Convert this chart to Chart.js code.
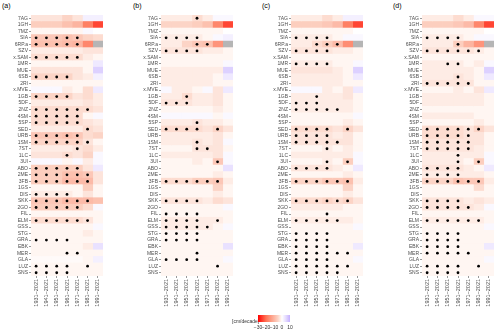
<!DOCTYPE html>
<html>
<head>
<meta charset="utf-8">
<script src="https://cdn.jsdelivr.net/npm/chart.js@4.4.0/dist/chart.umd.min.js"></script>
<style>
  body { margin: 0; background: #fff; font-family: "Liberation Sans", Arial, sans-serif; }
  #wrap { position: relative; width: 500px; height: 332px; }
  .panel { position: absolute; top: 0; width: 106px; height: 316px; }
  .tag { position: absolute; top: 2px; font-size: 7px; color: #000; }
  #legend { position: absolute; left: 232px; top: 312px; width: 90px; height: 20px; font-size: 5px; color: #333; }
</style>
</head>
<body>
<div id="wrap">
  <div class="tag" style="left:2px">(a)</div>
  <div class="tag" style="left:133px">(b)</div>
  <div class="tag" style="left:262px">(c)</div>
  <div class="tag" style="left:393px">(d)</div>
  <div class="panel" style="left:1px"><canvas id="pa"></canvas></div>
  <div class="panel" style="left:131px"><canvas id="pb"></canvas></div>
  <div class="panel" style="left:261px"><canvas id="pc"></canvas></div>
  <div class="panel" style="left:392px"><canvas id="pd"></canvas></div>
  <div id="legend">
    <span style="position:absolute;left:0;top:6px">[cm/decade]</span>
    <div id="bar" style="position:absolute;left:26px;top:3px;width:32px;height:7px"></div>
    <span id="legTicks"></span>
  </div>
</div>
<script>
const stations = ["7AG","1GH","7MZ","SIA","6RP.a","SZV","x.SAM","1MR","MUE","6SB","2RI","x.MVE","1GB","5DF","2NZ","4SM","5SP","SED","URB","1SM","7ST","1LC","3UI","ABO","2ME","3FB","1GS","DIS","SKK","2GO","FIL","ELM","GSS","STG","GRA","EBK","MER","GLA","LUZ","SNS"];
const periods = ["1931−2021","1941−2021","1951−2021","1961−2021","1971−2021","1981−2021","1991−2021"];
const legendTicks = [-30, -20, -10, 0, 10];

// trend values per station (rows) and period (columns), cm/decade; null = no data
const valuesA = [
  [-3,-3,-3,-5,-3,2,2],[-6,-6,-6,-8,-10,-18,-24],[-1,-1,-1,-1,-1,1,0],[-7,-7,-7,-8,-7,-5,-4],
  [-8,-8,-8,-9,-10,-17,null],[-2,-2,-2,-2,-2,-3,-3],[-4,-4,-4,-4,-4,-2,-1],[-1,-1,-1,-1,-1,-1,3],
  [-3,-3,-3,-3,-3,-1,6],[-5,-5,-5,-5,-3,-2,2],[-1,-1,-1,-1,-1,-1,-1],[1,1,1,-2,-1,-4,3],
  [-5,-5,-5,-5,-3,-4,-2],[-2,-2,-2,-2,-2,-3,-2],[-4,-4,-4,-4,-4,-4,-3],[-4,-4,-4,-4,-4,-1,1],
  [-4,-4,-4,-4,-4,-3,-2],[-2,-2,-2,-2,-2,-4,-3],[-7,-7,-7,-8,-7,-4,-5],[-5,-5,-5,-5,-5,-3,-1],
  [-2,-2,-2,-2,-3,-4,-2],[-3,-3,-3,-4,-3,-5,1],[1,1,1,-1,1,-2,1],[-6,-6,-6,-6,-6,-3,3],
  [-6,-6,-6,-8,-8,-7,-3],[-6,-6,-6,-9,-9,-9,-3],[-1,-1,-1,-1,-1,-6,-1],[-2,-2,-2,-2,-1,-3,-1],
  [-7,-7,-7,-9,-9,-9,-8],[-6,-6,-6,-6,-6,-4,1],[-1,-1,-1,-1,-1,-1,-1],[-4,-4,-4,-4,-4,-3,-1],
  [-1,-1,-1,-1,-1,-1,1],[-1,-1,-1,-1,-1,-2,-1],[-1,-1,-1,-1,-1,-1,-1],[-1,-1,-1,-1,-1,-2,4],
  [-1,-1,-1,-1,-1,-1,-1],[-0.5,-0.5,-0.5,-0.5,-0.5,-1,2],[-1,-1,-1,-1,-1,-1,-1],[-1,-1,-1,-1,-1,-1,-1]
];
const valuesB = [
  [-2,-2,-2,-4,-2,1,1],[-5,-5,-5,-6,-8,-17,-24],[-1,-1,-1,-1,-1,-1,0],[-2,-2,-2,-2,-1,1,2],
  [-2,-2,-5,-7,-8,-15,null],[-3,-3,-3,-3,-2,-2,-1],[-1,-1,-1,-1,-1,-1,-1],[-1,-1,-1,-1,-1,-1,1],
  [-2,-2,-2,-2,-2,-2,6],[-2,-2,-2,-2,-2,-1,3],[-2,-2,-2,-2,-2,-1,-1],[1,-2,-2,-1,1,-3,3],
  [-2,-2,-4,-2,-2,-3,-1],[-3,-3,-3,-2,-2,-3,-1],[-1,-1,-1,-1,-1,-2,-1],[1,1,1,1,1,-1,1],
  [-2,-2,-2,-3,-2,-2,-1],[-4,-4,-4,-4,-3,-5,-3],[-2,-2,-2,-2,-2,-3,-1],[-2,-2,-2,-3,-2,-3,1],
  [-1,-1,-1,-3,-3,-3,-1],[-2,-2,-2,-2,-2,-3,1],[-1,-1,-1,-2,-1,-7,1],[-1,-1,-1,-1,-1,-1,4],
  [-1,-1,-1,-1,-1,-2,-1],[-4,-4,-4,-6,-6,-7,-2],[-1,-1,-1,-1,-1,-5,-1],[-1,-1,-1,-1,-1,-2,-1],
  [-3,-3,-3,-3,-2,-4,-3],[-1,-1,-1,-1,-1,-1,1],[-1,-1,-1,-1,-1,-1,-1],[-2,-2,-2,-2,-2,-2,-1],
  [-2,-2,-2,-2,-2,-1,1],[-1,-1,-1,-1,-1,-1,-1],[-1,-1,-1,-1,-1,-1,-1],[-1,-1,-1,-1,-1,-1,4],
  [-1,-1,-1,-1,-1,-1,-1],[-1,-1,-1,-1,-1,-1,1],[-1,-1,-1,-1,-1,-1,-1],[-1,-1,-1,-1,-1,-1,-1]
];
const valuesC = [
  [-2,-2,-2,-4,-2,2,2],[-6,-6,-6,-7,-9,-18,-24],[-1,-1,-1,-1,-1,-1,0],[-2,-2,-2,-2,-1,1,1],
  [-2,-2,-4,-6,-9,-16,null],[-3,-3,-3,-3,-2,-2,-1],[-1,-1,-1,-1,-1,-1,-1],[-2,-2,-2,-2,-1,-1,1],
  [-3,-3,-3,-3,-2,-1,6],[-2,-2,-2,-2,-2,-1,3],[-2,-2,-2,-2,-2,-1,-1],[1,1,1,-2,-1,-3,3],
  [-2,-2,-2,-2,-2,-3,-1],[-2,-2,-2,-2,-2,-2,-1],[-2,-2,-2,-2,-2,-2,-1],[-1,-1,-1,-1,-1,-1,1],
  [-1,-1,-1,-1,-1,-2,-1],[-4,-4,-4,-4,-3,-5,-3],[-3,-3,-3,-3,-2,-3,-1],[-3,-3,-3,-3,-3,-3,-1],
  [-1,-1,-1,-2,-1,-2,-1],[-2,-2,-2,-2,-2,-2,1],[-1,-1,-1,-2,-1,-6,1],[-3,-3,-3,-3,-2,-1,3],
  [-1,-1,-1,-1,-1,-2,-1],[-5,-5,-5,-7,-7,-8,-2],[-1,-1,-1,-1,-1,-5,-1],[-1,-1,-1,-1,-1,-2,-1],
  [-4,-4,-4,-5,-4,-5,-3],[-2,-2,-2,-2,-2,-1,-1],[-1,-1,-1,-1,-1,-1,-1],[-2,-2,-2,-2,-2,-2,-1],
  [-1,-1,-1,-1,-1,-1,1],[-1,-1,-1,-1,-1,-1,-1],[-1,-1,-1,-1,-1,-1,-1],[-1,-1,-1,-1,-1,-1,3],
  [-1,-1,-1,-1,-1,-1,-1],[-1,-1,-1,-1,-1,-1,1],[-1,-1,-1,-1,-1,-1,-1],[-1,-1,-1,-1,-1,-1,-1]
];
const valuesD = [
  [-2,-2,-2,-4,-2,1,1],[-6,-6,-6,-7,-9,-17,-24],[-1,-1,-1,-1,-1,-1,0],[-2,-2,-2,-2,-1,1,1],
  [-2,-2,-2,-6,-10,-15,null],[-3,-3,-3,-3,-3,-2,-1],[-1,-1,-1,-1,-1,-1,-1],[-2,-2,-2,-2,-1,-2,1],
  [-2,-2,-2,-2,-2,-1,6],[-2,-2,-2,-3,-2,-1,3],[-3,-3,-3,-3,-3,-1,-1],[-1,-1,-1,-2,-1,-3,3],
  [-2,-2,-2,-2,-2,-2,-1],[-2,-2,-2,-2,-2,-2,-1],[-1,-1,-1,-1,-1,-1,-1],[-2,-2,-2,-2,-2,-1,-1],
  [-1,-1,-1,-1,-1,-2,-1],[-4,-4,-4,-4,-3,-5,-3],[-4,-4,-4,-4,-3,-3,-1],[-3,-3,-3,-3,-3,-3,-1],
  [-3,-3,-3,-3,-3,-2,-1],[-2,-2,-2,-2,-2,-2,1],[-2,-2,-2,-2,-1,-6,1],[-3,-3,-3,-3,-2,-1,3],
  [-2,-2,-2,-2,-2,-2,-1],[-5,-5,-5,-8,-7,-7,-2],[-1,-1,-1,-1,-1,-4,-1],[-1,-1,-1,-1,-1,-1,-1],
  [-3,-3,-3,-3,-2,-3,-2],[-3,-3,-3,-3,-3,-2,1],[-1,-1,-1,-1,-1,-1,-1],[-2,-2,-2,-2,-2,-2,-1],
  [-1,-1,-1,-1,-1,-1,1],[-1,-1,-1,-1,-1,-1,-1],[-1,-1,-1,-1,-1,-1,-1],[-1,-1,-1,-1,-1,-1,3],
  [-1,-1,-1,-1,-1,-1,-1],[-1,-1,-1,-1,-1,-1,1],[-1,-1,-1,-1,-1,-1,-1],[-1,-1,-1,-1,-1,-1,-1]
];

// significance marks: one string per station, "1" where the trend is significant
const dotsA = ["0000000","0000000","0000000","1111100","1111100","0000000","1111100","0000000","0000000","1111000",
  "0000000","0000000","1111000","0000000","1111110","1111100","1111100","0000010","1111100","1111110",
  "0000100","0001000","0000000","1111100","1111110","1111110","0000000","1111000","1111110","1111100",
  "0000000","1111110","0000000","0000000","1111000","0000000","0001100","0000000","1111010","1111000"];
const dotsB = ["0001000","0000000","0000000","1111000","0001100","1111000","0000000","0000000","0000000","0000000",
  "0000000","0000000","0010000","1110000","0000000","0000000","0001000","1111010","0000000","0001000",
  "0001100","0000000","0000010","0000000","0000000","1111110","0000000","0000000","1111000","0000000",
  "1111000","1111010","1111100","1111000","1111000","0000000","0001000","1111000","0000010","0000000"];
const dotsC = ["0000000","0000000","0000000","1111000","0011100","1111000","0000000","1111000","0000000","0000000",
  "0000000","0000000","0010000","1110000","1111100","0000000","0000000","1111010","1111000","1111100",
  "0001000","0000000","0001010","1111000","0000000","1111110","0000000","0000000","1111110","0000000",
  "0001000","1111100","0000000","1111000","1111000","1111000","1111110","1111000","1111110","1111100"];
const dotsD = ["0000000","0000000","0000000","1111000","0001000","1111110","0000000","0011000","0000000","0001000",
  "1111100","0000000","0000000","0000000","0000000","0000000","0000000","1111110","1111100","1111100",
  "1111100","0001000","0001010","1111000","1111000","1111110","0000000","0000000","1111000","1111100",
  "0000000","1111110","0000000","1111000","1111000","1111000","1111100","0000000","1111010","1111000"];

// diverging fill: red (-30) -> white (0) -> lavender (10)
const stops = [[-30,[255,0,0]],[-20,[255,115,85]],[-10,[252,180,160]],[-5,[252,212,198]],[-2,[254,236,229]],[0,[255,255,255]],[5,[228,218,255]],[10,[195,175,255]]];
function fill(v) {
  if (v === null) return "#b5b5b5";
  v = Math.max(-30, Math.min(10, v));
  for (let i = 1; i < stops.length; i++) {
    if (v <= stops[i][0]) {
      const [v0, c0] = stops[i - 1], [v1, c1] = stops[i];
      const t = (v - v0) / (v1 - v0);
      return "rgb(" + c0.map((c, k) => Math.round(c + (c1[k] - c) * t)).join(",") + ")";
    }
  }
}

function makePanel(id, values, dots) {
  const datasets = periods.map((p, j) => ({
    type: "bar",
    order: 1,
    data: stations.map(() => [j, j + 1]),
    backgroundColor: values.map(r => fill(r[j])),
    borderWidth: 0,
    barPercentage: 1,
    categoryPercentage: 1,
    grouped: false
  }));
  const pts = [];
  stations.forEach((s, i) => {
    for (let j = 0; j < periods.length; j++) {
      if (dots[i][j] === "1") pts.push({ x: j + 0.5, y: s });
    }
  });
  datasets.push({
    type: "scatter",
    order: 0,
    data: pts,
    pointRadius: 1.4,
    pointBackgroundColor: "#000",
    pointBorderWidth: 0
  });

  new Chart(document.getElementById(id), {
    data: { labels: stations, datasets },
    options: {
      indexAxis: "y",
      responsive: true,
      maintainAspectRatio: false,
      animation: false,
      layout: { padding: { top: 15, right: 2, left: 0, bottom: 0 } },
      plugins: { legend: { display: false }, tooltip: { enabled: false } },
      scales: {
        x: {
          type: "linear",
          min: 0,
          max: 7,
          afterBuildTicks: (scale) => { scale.ticks = periods.map((p, j) => ({ value: j + 0.5 })); },
          afterFit: (scale) => { scale.height = 40; },
          ticks: {
            autoSkip: false,
            minRotation: 90,
            maxRotation: 90,
            padding: 1,
            color: "#4d4d4d",
            font: { size: 5.5, family: "Liberation Sans" },
            callback: (v, i) => periods[i]
          },
          grid: { drawOnChartArea: false, tickLength: 2, color: "#333", lineWidth: 0.5 },
          border: { display: false }
        },
        y: {
          type: "category",
          labels: stations,
          afterFit: (scale) => { scale.width = 30; },
          ticks: {
            autoSkip: false,
            padding: 1,
            color: "#4d4d4d",
            font: { size: 5, family: "Liberation Sans" }
          },
          grid: { drawOnChartArea: false, tickLength: 2, color: "#333", lineWidth: 0.5, offset: false },
          border: { display: false }
        }
      }
    }
  });
}

makePanel("pa", valuesA, dotsA);
makePanel("pb", valuesB, dotsB);
makePanel("pc", valuesC, dotsC);
makePanel("pd", valuesD, dotsD);

// colour bar legend
const grad = [];
for (let v = -30; v <= 10; v += 5) grad.push(fill(v) + " " + ((v + 30) / 40 * 100) + "%");
document.getElementById("bar").style.background = "linear-gradient(to right," + grad.join(",") + ")";
const lt = document.getElementById("legTicks");
legendTicks.forEach(t => {
  const s = document.createElement("span");
  s.textContent = t < 0 ? "−" + Math.abs(t) : String(t);
  s.style.position = "absolute";
  s.style.top = "12px";
  s.style.left = (26 + (t + 30) / 40 * 32) + "px";
  s.style.transform = "translateX(-50%)";
  lt.appendChild(s);
});
</script>
</body>
</html>
